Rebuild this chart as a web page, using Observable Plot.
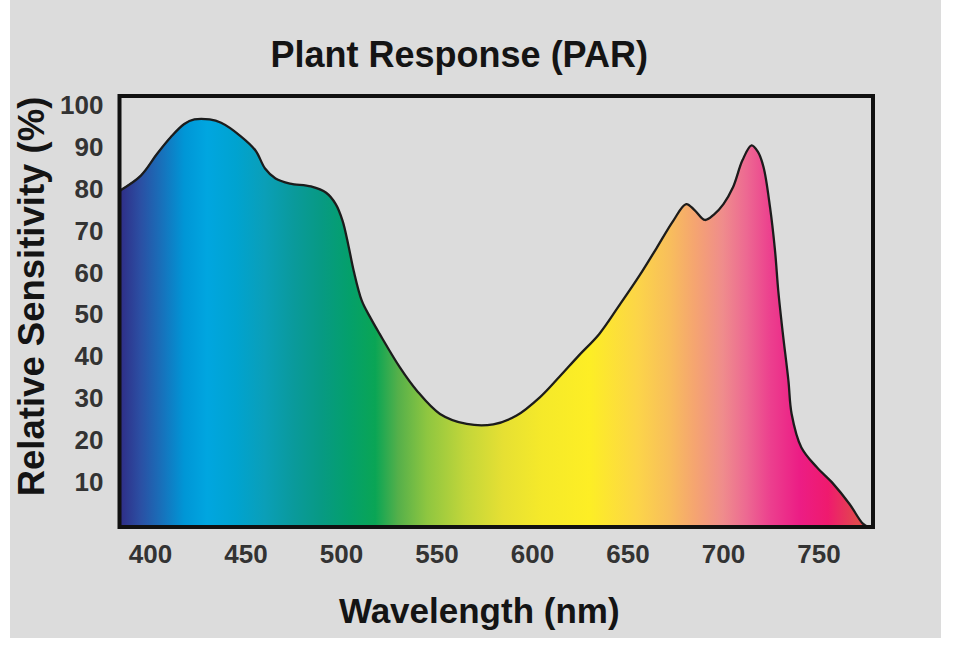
<!DOCTYPE html>
<html>
<head>
<meta charset="utf-8">
<script src="https://cdn.jsdelivr.net/npm/d3@7"></script>
<script src="https://cdn.jsdelivr.net/npm/@observablehq/plot@0.6"></script>
<style>
  body { margin: 0; background: #fff; }
  #chart { position: absolute; left: 10px; top: 0; }
  #chart svg { display: block; }
</style>
</head>
<body>
<div id="chart"></div>
<script>
// Relative photosynthetic sensitivity across the visible spectrum
const wavelength = [384, 395, 403.5, 410.7, 417.7, 423, 431, 437, 447, 455, 460, 465.5, 473, 484, 492, 497, 500.6, 503.7, 506.4, 510.6, 515, 520, 530.6, 539.4, 551.6, 565.6, 579.5, 591.7, 604, 614, 624, 635, 645, 656, 665, 673.7, 680.5, 685, 690.3, 695, 700, 705, 710, 714.7, 718, 721, 724.4, 727, 728.7, 731, 734, 735.7, 740.8, 748.8, 757.5, 766, 773, 776];
const sensitivity = [79.7, 83.3, 88.5, 92.5, 95.6, 96.7, 96.7, 95.9, 92.8, 89.3, 85, 82.6, 81.4, 80.7, 79.2, 76.5, 72.5, 66.5, 60.6, 53.5, 49.5, 45.5, 37.5, 32, 26.4, 24, 23.9, 26, 30.4, 35.2, 40.2, 45.5, 52, 59.4, 66, 72.5, 76.5, 75, 72.7, 74, 76.5, 80.5, 87, 90.5, 89, 85.3, 75.7, 65.4, 55.8, 46, 34.4, 26.4, 18.4, 13.7, 9.7, 4.9, 0.2, -0.6];

const xTicks = [400, 450, 500, 550, 600, 650, 700, 750];
const yTicks = [10, 20, 30, 40, 50, 60, 70, 80, 90, 100];
const xDomain = [383.8, 778.3];
const yDomain = [-0.6, 102.3];

const titleText = "Plant Response (PAR)";
const xLabel = "Wavelength (nm)";
const yLabel = "Relative Sensitivity (%)";

// Spectrum colours painted under the curve, keyed by wavelength
const spectrumNm = [385, 395, 405, 418, 430, 445, 460, 475, 490, 505, 518, 530, 545, 565, 585, 605, 630, 655, 672, 685, 700, 712, 725, 740, 755, 770];
const spectrumColor = ["#2f2f88", "#2b4fa3", "#1a6db8", "#0096d6", "#00a6e0", "#00a3d0", "#0a9fb8", "#0a9a9c", "#079a83", "#04a06a", "#0aa555", "#55b04a", "#8ec640", "#c2d63a", "#e6e033", "#f5e92a", "#fdee25", "#fcd548", "#f8be5c", "#f5a570", "#ef8c8c", "#ed6a92", "#ec3f8e", "#ec1d85", "#ef1a6e", "#e2474e"];

const rows = wavelength.map((nm, i) => ({nm, value: sensitivity[i]}));

const font = "'Liberation Sans', Arial, Helvetica, sans-serif";

const chart = Plot.plot({
  width: 931,
  height: 638,
  marginLeft: 109,
  marginRight: 68.5,
  marginTop: 95.5,
  marginBottom: 111.5,
  style: {background: "#dcdcdc", fontFamily: font, fontSize: "26px", fontWeight: "bold", color: "#333"},
  x: {domain: xDomain, ticks: xTicks, tickSize: 0, tickPadding: 18, label: null},
  y: {domain: yDomain, ticks: yTicks, tickSize: 0, tickPadding: 16, label: null},
  marks: [
    Plot.areaY(rows, {x: "nm", y1: yDomain[0], y2: "value", curve: "catmull-rom", fill: "url(#spectrum)"}),
    Plot.lineY(rows, {x: "nm", y: "value", curve: "catmull-rom", stroke: "#1c1c1c", strokeWidth: 2.3}),
    Plot.frame({stroke: "#111", strokeWidth: 4}),
    Plot.text([titleText], {frameAnchor: "top", dx: -37, dy: -29, lineAnchor: "bottom", fontSize: 36, fontWeight: "bold", fill: "#141414"}),
    Plot.text([xLabel], {frameAnchor: "bottom", dx: -17, dy: 95.5, lineAnchor: "bottom", fontSize: 35, fontWeight: "bold", fill: "#141414"}),
    Plot.text([yLabel], {frameAnchor: "left", textAnchor: "middle", rotate: -90, dx: -76, dy: -15, lineAnchor: "bottom", fontSize: 36.5, fontWeight: "bold", fill: "#141414"})
  ]
});

// Horizontal spectrum gradient laid out on the x scale
const sx = chart.scale("x");
const px = v => sx.range[0] + (v - sx.domain[0]) / (sx.domain[1] - sx.domain[0]) * (sx.range[1] - sx.range[0]);
const grad = d3.select(chart).insert("defs", ":first-child")
  .append("linearGradient")
  .attr("id", "spectrum")
  .attr("gradientUnits", "userSpaceOnUse")
  .attr("x1", px(xDomain[0])).attr("x2", px(xDomain[1]))
  .attr("y1", 0).attr("y2", 0);
spectrumNm.forEach((nm, i) => {
  grad.append("stop")
    .attr("offset", (nm - xDomain[0]) / (xDomain[1] - xDomain[0]))
    .attr("stop-color", spectrumColor[i]);
});

document.getElementById("chart").append(chart);
</script>
</body>
</html>
